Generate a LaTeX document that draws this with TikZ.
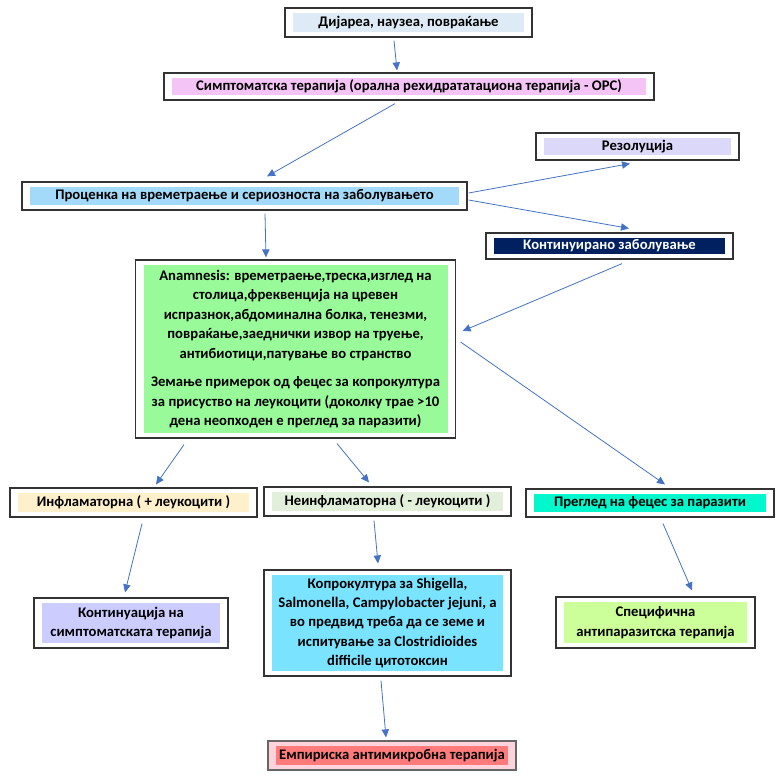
\documentclass[tikz,border=0pt]{standalone}
\usepackage{fontspec}
\setmainfont{Carlito}
\usepackage{xcolor}
\usepackage{tikz}
\definecolor{arrowblue}{HTML}{4472C4}
\definecolor{dijfill}{HTML}{DEEBF7}
\definecolor{simpfill}{HTML}{F5C4F6}
\definecolor{procfill}{HTML}{A4DAF9}
\definecolor{rezfill}{HTML}{DCD8FA}
\definecolor{kontfill}{HTML}{002060}
\definecolor{anamfill}{HTML}{99FA99}
\definecolor{inflfill}{HTML}{FFF0CC}
\definecolor{neinflfill}{HTML}{E2EFDA}
\definecolor{pregfill}{HTML}{00F8CC}
\definecolor{kontinfill}{HTML}{CCCCFF}
\definecolor{koprofill}{HTML}{7AE3FF}
\definecolor{specfill}{HTML}{CCFF99}
\definecolor{empfill}{HTML}{FF7B7B}
\definecolor{empback}{HTML}{FFD3DC}
\tikzset{
	box/.style={
			draw=black!80, line width=0.9pt, fill=white, inner sep=0pt,
			align=center, font=\fontsize{11}{14.6}\selectfont\bfseries,
			path picture={
					\fill[#1] ([shift={(6pt,-4pt)}]path picture bounding box.north west)
					rectangle ([shift={(-6pt,4pt)}]path picture bounding box.south east);
				}
		}
}
\tikzstyle{arr} = [draw, arrowblue, line width=0.6pt, -{Triangle[length=6pt,width=5.5pt]}]
\usetikzlibrary{arrows.meta,calc}

\begin{document}
\begin{tikzpicture}[x=0.75pt, y=-0.75pt]
  \useasboundingbox (0,0) rectangle (784,778);
  % Nodes
  \node[box=dijfill, minimum width=185.25pt, minimum height=21.75pt] (dij) at (408.5, 22.5) {Дијареа, наузеа, повраќање};
  \node[box=simpfill, minimum width=367.5pt, minimum height=20.25pt] (simp) at (409, 86.5) {Симптоматска терапија (орална рехидрататациона терапија - ОРС)};
  \node[box=procfill, minimum width=333.75pt, minimum height=21pt] (proc) at (244.5, 196) {Проценка на времетраење и сериозноста на заболувањето};
  \node[box=rezfill, minimum width=152.25pt, minimum height=20.25pt] (rez) at (637.5, 146.5) {Резолуција};
  \node[box=kontfill, text=white, minimum width=185.25pt, minimum height=19.5pt] (kont) at (609.5, 246) {Континуирано заболување};

  \node[box=anamfill, minimum width=240pt, minimum height=133.5pt] (anam) at (295.5, 349)
    {Anamnesis: времетраење,треска,изглед на\\
     столица,фреквенција на цревен\\
     испразнок,абдоминална болка, тенезми,\\
     повраќање,заеднички извор на труење,\\
     антибиотици,патување во странство\\[7pt]
     Земање примерок од фецес за копрокултура\\
     за присуство на леукоцити (доколку трае >10\\
     дена неопходен е преглед за паразити)};

  \node[box=inflfill, minimum width=185.25pt, minimum height=21.75pt] (infl) at (133.5, 502.5) {Инфламаторна ( + леукоцити )};
  \node[box=neinflfill, minimum width=185.25pt, minimum height=21.75pt] (neinfl) at (387.5, 501.5) {Неинфламаторна ( - леукоцити )};
  \node[box=pregfill, minimum width=186pt, minimum height=21pt] (pregled) at (650, 503) {Преглед на фецес за паразити};

  \node[box=kontinfill, minimum width=145.5pt, minimum height=37.5pt] (kontin) at (131, 623)
    {Континуација на\\ симптоматската терапија};
  \node[box=koprofill, minimum width=185.25pt, minimum height=79.5pt] (kopro) at (387.5, 623)
    {Копрокултура за Shigella,\\
     Salmonella, Campylobacter jejuni, а\\
     во предвид треба да се земе и\\
     испитување за Clostridioides\\
     difficile цитотоксин};
  \node[box=specfill, minimum width=149.25pt, minimum height=38.25pt] (spec) at (655.5, 622.5)
    {Специфична\\ антипаразитска терапија};

  \node[box=empfill, fill=empback, draw=black!60, minimum width=186pt, minimum height=21.75pt] (emp) at (392, 755.5) {Емпириска антимикробна терапија};

  % Arrows
  \draw[arr] ($(dij.south)+(-14.5,3)$) -- ($(simp.north)+(-12,-2)$);
  \draw[arr] ($(simp.south)+(-14,3)$) -- ($(proc.north)+(22.5,-5)$);
  \draw[arr] ($(proc.east)+(1,-3)$) -- ($(rez.south)+(-7.5,3)$);
  \draw[arr] ($(proc.east)+(1,4)$) -- ($(kont.north)+(19.5,-4)$);
  \draw[arr] ($(proc.south)+(20.5,3)$) -- ($(anam.north)+(-29.5,-2)$);
  \draw[arr] ($(kont.south)+(12.5,4)$) -- ($(anam.east)+(6.5,-18)$);
  \draw[arr] ($(anam.east)+(4.5,-7)$) -- ($(pregled.north)+(15,-4)$);

  \draw[arr] ($(anam.south)+(-111.5,6)$) -- ($(infl.north)+(22.5,-3)$);
  \draw[arr] ($(anam.south)+(41.5,5)$) -- ($(neinfl.north)+(-18.5,-4)$);
  \draw[arr] ($(infl.south)+(8.5,6)$) -- ($(kontin.north)+(-6,-5)$);
  \draw[arr] ($(neinfl.south)+(-13.5,4)$) -- ($(kopro.north)+(-9.5,-6)$);
  \draw[arr] ($(pregled.south)+(13,6)$) -- ($(spec.north)+(36.5,-6)$);
  \draw[arr] ($(kopro.south)+(-6.5,4)$) -- ($(emp.north)+(-6,-3)$);
\end{tikzpicture}
\end{document}
